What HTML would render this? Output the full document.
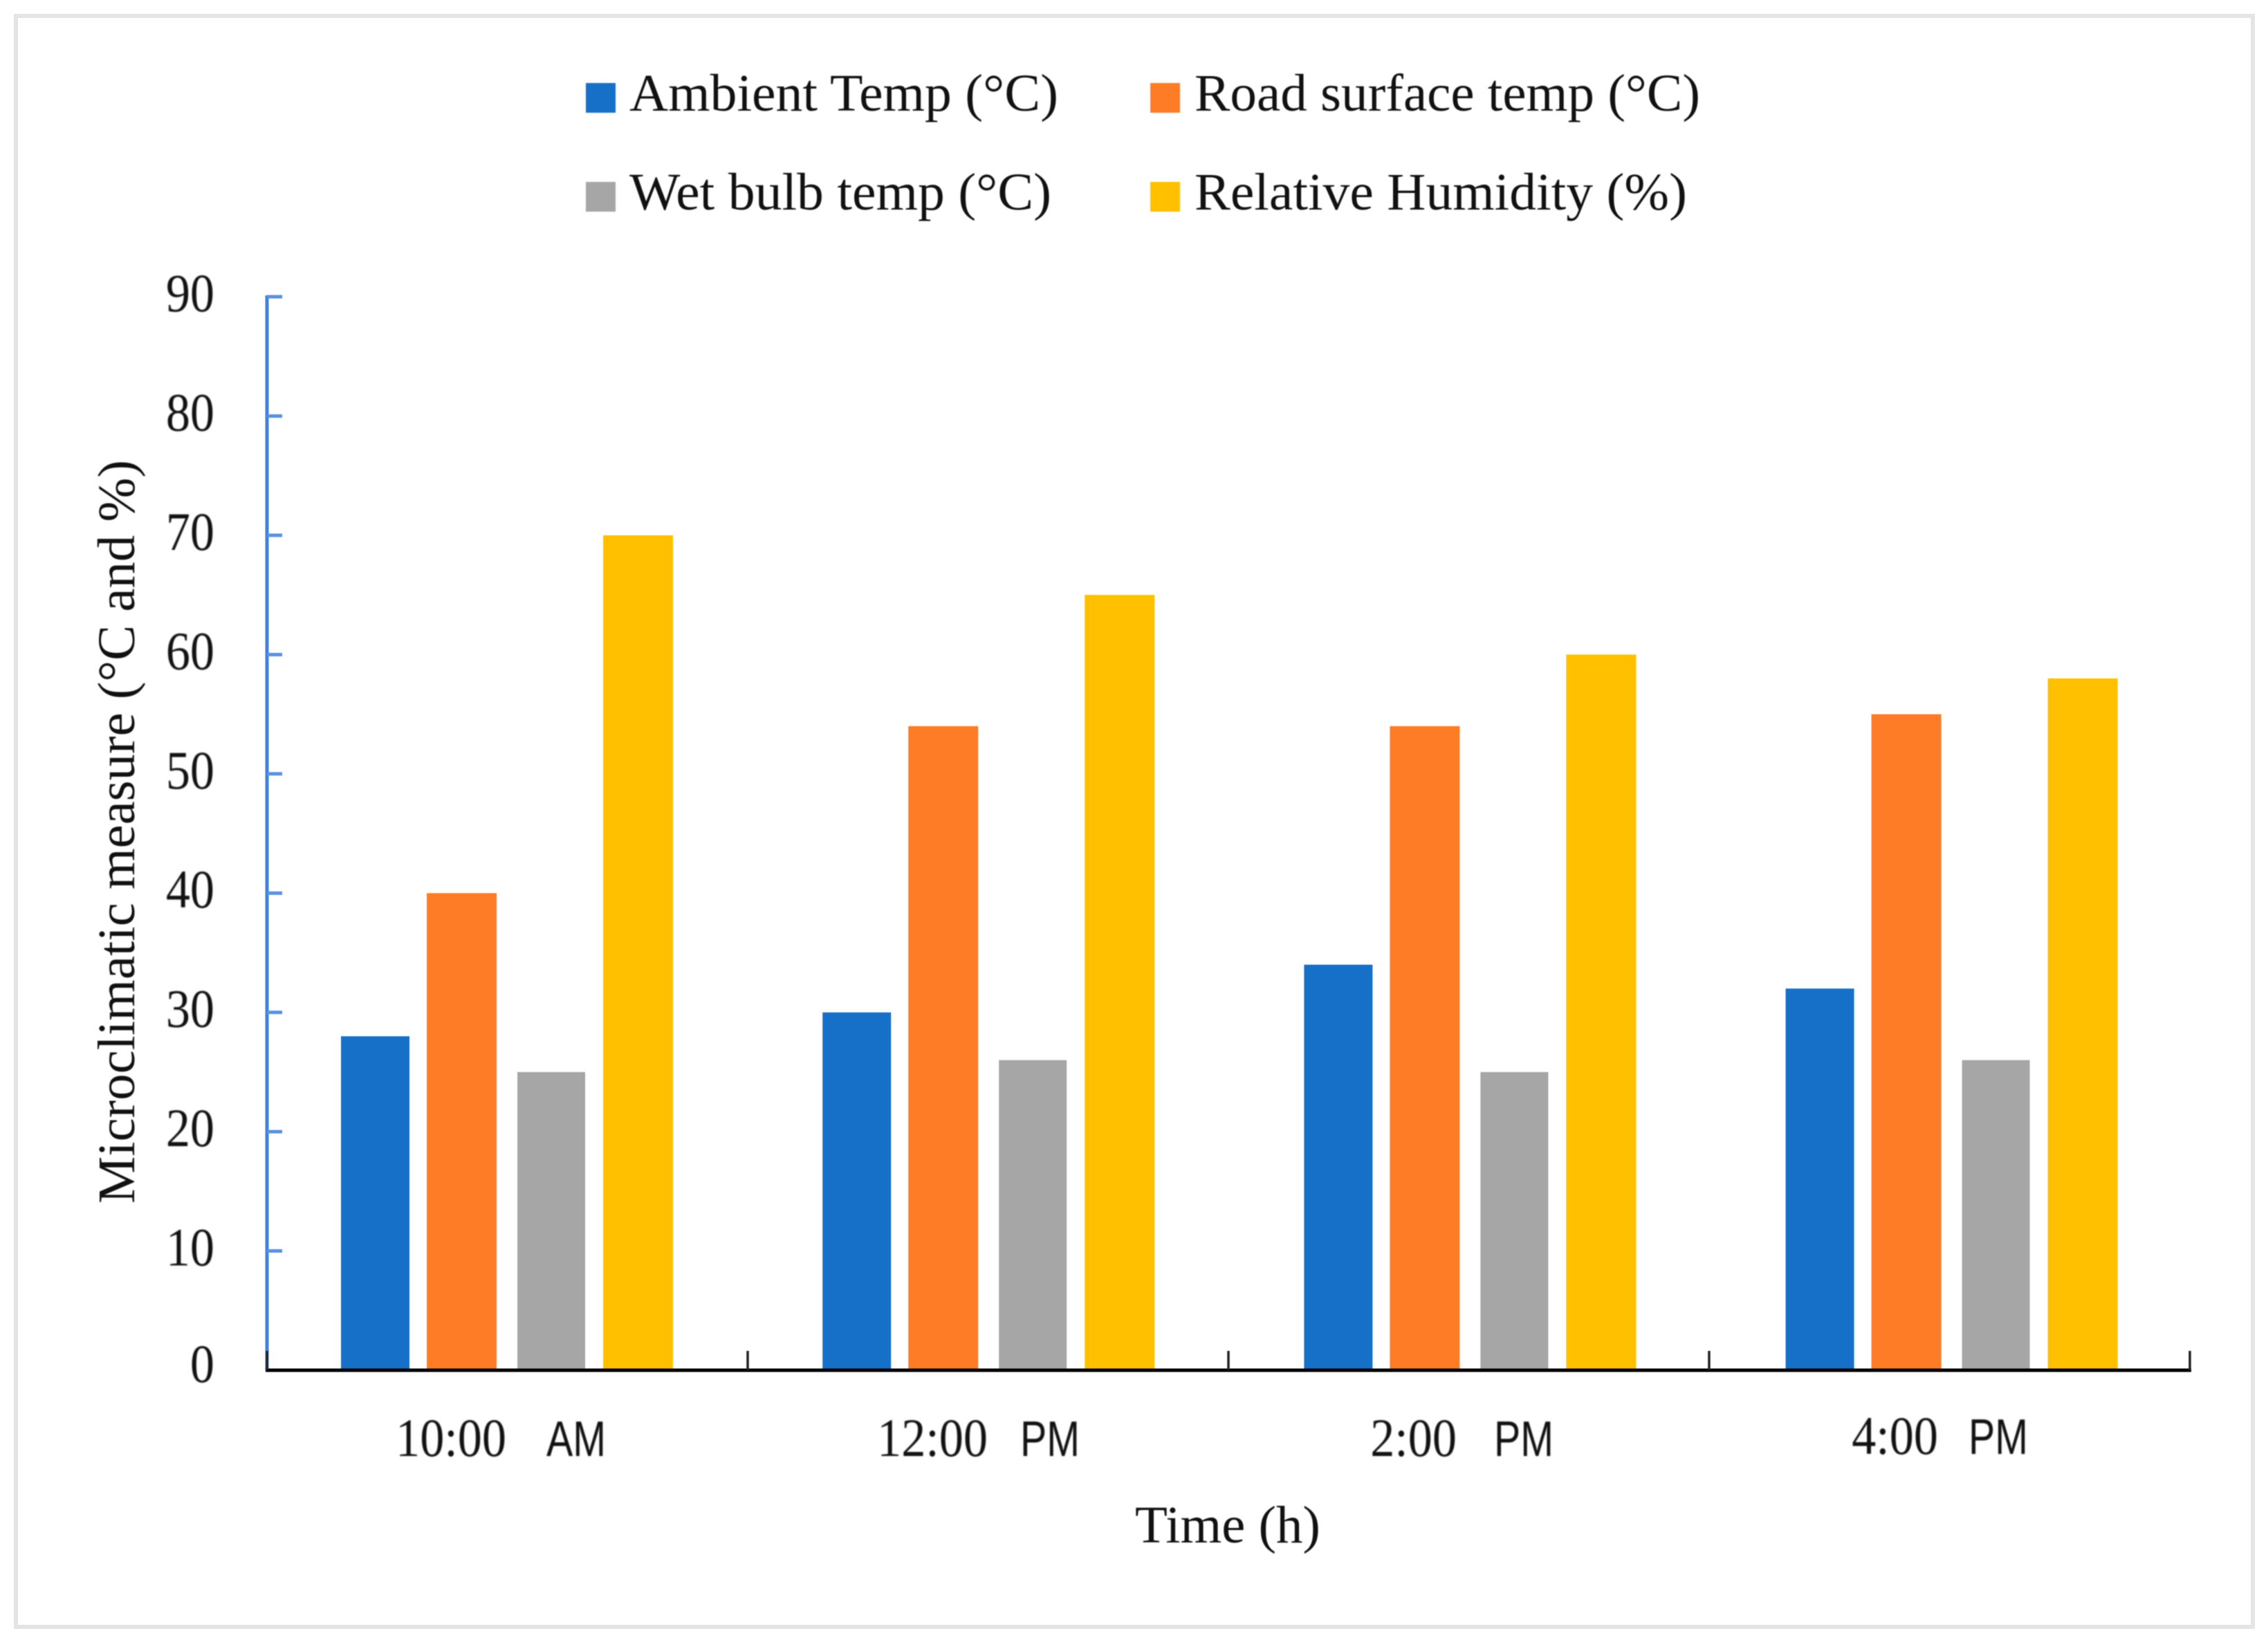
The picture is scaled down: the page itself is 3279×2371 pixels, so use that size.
<!DOCTYPE html>
<html lang="en">
<head>
<meta charset="utf-8">
<title>Microclimatic measures by time of day</title>
<style>
  html, body { margin: 0; padding: 0; background: #fff; }
  svg { display: block; }
  text { font-family: "Liberation Serif", serif; fill: #111; }
  .sans { font-family: "Liberation Sans", sans-serif; }
</style>
</head>
<body>
<svg id="chart" xmlns="http://www.w3.org/2000/svg" width="3279" height="2371" viewBox="0 0 3279 2371">
  <rect x="0" y="0" width="3279" height="2371" fill="#fff"/>
  <rect x="23" y="23" width="3234" height="2329" fill="none" stroke="#e4e4e4" stroke-width="6"/>
  <g id="plot" style="filter:blur(0.6px)"></g>
  <g style="filter:blur(0.8px)">
    <g>
      <rect x="847" y="120" width="43" height="43" fill="#1670C8"/>
      <text x="910" y="160" font-size="76" textLength="620" lengthAdjust="spacingAndGlyphs">Ambient Temp (°C)</text>
    </g>
    <g>
      <rect x="1663" y="120" width="43" height="43" fill="#FF7C26"/>
      <text x="1727" y="160" font-size="76" textLength="731" lengthAdjust="spacingAndGlyphs">Road surface temp (°C)</text>
    </g>
    <g>
      <rect x="847" y="263" width="43" height="43" fill="#A6A6A6"/>
      <text x="910" y="303" font-size="76" textLength="610" lengthAdjust="spacingAndGlyphs">Wet bulb temp (°C)</text>
    </g>
    <g>
      <rect x="1663" y="263" width="43" height="43" fill="#FFC000"/>
      <text x="1727" y="303" font-size="76" textLength="712" lengthAdjust="spacingAndGlyphs">Relative Humidity (%)</text>
    </g>
  </g>
  <text transform="translate(194,1740) rotate(-90)" font-size="76" textLength="1075" lengthAdjust="spacingAndGlyphs" style="filter:blur(0.8px)">Microclimatic measure (°C and %)</text>
  <text x="1641" y="2230" font-size="76" textLength="268" lengthAdjust="spacingAndGlyphs" style="filter:blur(0.8px)">Time (h)</text>
</svg>
<script>
var categories = ['10:00', '12:00', '2:00', '4:00'];
var periods = ['AM', 'PM', 'PM', 'PM'];
var ambientTemp = [28, 30, 34, 32];
var roadSurfaceTemp = [40, 54, 54, 55];
var wetBulbTemp = [25, 26, 25, 26];
var relativeHumidity = [70, 65, 60, 58];
var yTickLabels = [0, 10, 20, 30, 40, 50, 60, 70, 80, 90];

var SVGNS = 'http://www.w3.org/2000/svg';
var plot = document.getElementById('plot');
var axisLeft = 386, axisRight = 3166, axisBottom = 1981, axisTop = 429;
var yMax = 90;

function yScale(v) {
  return axisBottom - (v / yMax) * (axisBottom - axisTop);
}
function groupX(i) {
  return axisLeft + i * (axisRight - axisLeft) / categories.length;
}
function barGroupX(i) {
  return groupX(i) + i * 1.2;
}
function make(tag, attrs, parent) {
  var el = document.createElementNS(SVGNS, tag);
  for (var k in attrs) el.setAttribute(k, attrs[k]);
  (parent || plot).appendChild(el);
  return el;
}

var seriesList = [
  { key: 'ambient-temp', values: ambientTemp, color: '#1670C8', inset: 107, width: 99 },
  { key: 'road-surface-temp', values: roadSurfaceTemp, color: '#FF7C26', inset: 231, width: 101 },
  { key: 'wet-bulb-temp', values: wetBulbTemp, color: '#A6A6A6', inset: 362, width: 98 },
  { key: 'relative-humidity', values: relativeHumidity, color: '#FFC000', inset: 486, width: 101 }
];

seriesList.forEach(function (s) {
  s.values.forEach(function (v, i) {
    var y = yScale(v);
    var bar = make('rect', { x: barGroupX(i) + s.inset, y: y, width: s.width, height: axisBottom - y, fill: s.color });
    
    
  });
});

var yAxisLine = make('line', { x1: axisLeft, y1: axisTop - 2, x2: axisLeft, y2: axisBottom, stroke: '#3f80d8', 'stroke-width': 5 });



yTickLabels.forEach(function (t) {
  var y = yScale(t);
  if (t !== 0) {
    var tick = make('line', { x1: axisLeft, y1: y, x2: axisLeft + 22, y2: y, stroke: '#5a92e0', 'stroke-width': 5 });
    
    
  }
  var drop = t === 0 ? 17 : 21;
  var label = make('text', { transform: 'translate(310,' + (y + drop) + ') scale(0.9,1)', 'text-anchor': 'end', 'font-size': 78, style: 'filter:blur(0.8px)' });
  label.textContent = String(t);
  
  
});

var xAxisLine = make('line', { x1: axisLeft - 2, y1: axisBottom, x2: axisRight + 2, y2: axisBottom, stroke: '#000', 'stroke-width': 5 });



for (var g = 0; g <= categories.length; g++) {
  var xt = make('line', { x1: groupX(g), y1: 1953, x2: groupX(g), y2: axisBottom, stroke: '#222', 'stroke-width': 3.5 });
  
  
}

var timeEndInset = [346, 347, 330, 331];
var periodStartInset = [404, 394, 384, 375];
var labelBaselines = [2105, 2105, 2105, 2102];

categories.forEach(function (c, i) {
  var timeLabel = make('text', { transform: 'translate(' + (groupX(i) + timeEndInset[i]) + ',' + labelBaselines[i] + ') scale(0.9,1)', 'text-anchor': 'end', 'font-size': 78, style: 'filter:blur(0.8px)' });
  timeLabel.textContent = c;
  
  
  var periodLabel = make('text', { x: groupX(i) + periodStartInset[i], y: labelBaselines[i], 'font-size': 72, 'class': 'sans', textLength: 86, lengthAdjust: 'spacingAndGlyphs', style: 'filter:blur(0.8px)' });
  periodLabel.textContent = periods[i];
  
  
});
</script>
</body>
</html>
